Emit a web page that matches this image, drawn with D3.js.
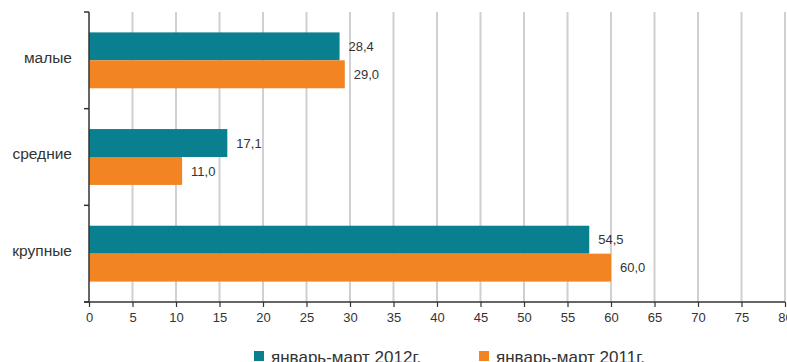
<!DOCTYPE html>
<html>
<head>
<meta charset="utf-8">
<script src="https://cdn.jsdelivr.net/npm/d3@7"></script>
<style>
  body { margin: 0; background: #fff; }
  text { font-family: "Liberation Sans", Arial, sans-serif; fill: #333; }
</style>
</head>
<body>
<div class="container"></div>
<script>
const categories = ["малые", "средние", "крупные"];
const seriesNames = ["январь-март 2012г.", "январь-март 2011г."];
// bar lengths as drawn in the picture
const values2012 = [28.8, 15.9, 57.5];
const values2011 = [29.4, 10.7, 60.0];
// printed labels
const labels2012 = ["28,4", "17,1", "54,5"];
const labels2011 = ["29,0", "11,0", "60,0"];
const xTicks = d3.range(0, 81, 5);

const w = 787;
const h = 362;
const margin = { top: 12, right: 2, bottom: 60, left: 89 };
const colors = ["#0a7f8f", "#f38422"];

const svg = d3.select(".container").append("svg")
  .attr("width", w)
  .attr("height", h);

const x = d3.scaleLinear().domain([0, 80]).range([margin.left, 785]);
const y = d3.scaleBand().domain(categories).range([margin.top, h - margin.bottom]);
const ySub = d3.scaleBand().domain(seriesNames).range([0, y.bandwidth()]).paddingOuter(0.73);

// grid
svg.append("g").selectAll("line")
  .data(xTicks.filter(d => d > 0))
  .enter().append("line")
  .attr("x1", d => x(d)).attr("x2", d => x(d))
  .attr("y1", margin.top).attr("y2", h - margin.bottom)
  .attr("stroke", "#d0d0d0")
  .attr("stroke-width", 2);

const rows = categories.map((c, i) => [
  { cat: c, s: seriesNames[0], v: values2012[i], label: labels2012[i], color: colors[0] },
  { cat: c, s: seriesNames[1], v: values2011[i], label: labels2011[i], color: colors[1] }
]).flat();

svg.append("g").selectAll("rect")
  .data(rows)
  .enter().append("rect")
  .attr("x", x(0))
  .attr("y", d => y(d.cat) + ySub(d.s))
  .attr("width", d => x(d.v) - x(0))
  .attr("height", ySub.bandwidth())
  .attr("fill", d => d.color);

svg.append("g").selectAll("text")
  .data(rows)
  .enter().append("text")
  .attr("x", d => x(d.v) + 9)
  .attr("y", d => y(d.cat) + ySub(d.s) + ySub.bandwidth() / 2)
  .attr("dy", "0.35em")
  .style("font-size", "13px")
  .text(d => d.label);

// x axis
const xAxis = svg.append("g")
  .attr("transform", `translate(0,${h - margin.bottom})`)
  .call(d3.axisBottom(x).tickValues(xTicks).tickSize(5).tickPadding(6).tickSizeOuter(0));
xAxis.select(".domain").remove();
xAxis.selectAll("line").attr("stroke", "#333").attr("stroke-width", 1.2);
xAxis.selectAll("text").style("font-size", "13px").style("fill", "#333");
xAxis.append("line")
  .attr("x1", margin.left - 5).attr("x2", x(80))
  .attr("stroke", "#333").attr("stroke-width", 1.5);

// y axis
const yEdges = categories.map(c => y(c)).concat([h - margin.bottom]);
const yAxis = svg.append("g");
yAxis.append("line")
  .attr("x1", margin.left).attr("x2", margin.left)
  .attr("y1", margin.top).attr("y2", h - margin.bottom)
  .attr("stroke", "#333").attr("stroke-width", 1.5);
yAxis.selectAll(".tick")
  .data(yEdges)
  .enter().append("line")
  .attr("x1", margin.left - 5).attr("x2", margin.left)
  .attr("y1", d => d).attr("y2", d => d)
  .attr("stroke", "#333").attr("stroke-width", 1.5);
yAxis.selectAll(".cat")
  .data(categories)
  .enter().append("text")
  .attr("x", 72)
  .attr("y", d => y(d) + y.bandwidth() / 2 - 3)
  .attr("dy", "0.35em")
  .attr("text-anchor", "end")
  .style("font-size", "15.5px")
  .text(d => d);

// legend
const legendX = [254, 479];
const legend = svg.append("g").selectAll("g")
  .data(seriesNames)
  .enter().append("g")
  .attr("transform", (d, i) => `translate(${legendX[i]},351)`);
legend.append("rect")
  .attr("width", 10).attr("height", 10)
  .attr("fill", (d, i) => colors[i]);
legend.append("text")
  .attr("x", 17)
  .attr("y", 12)
  .style("font-size", "17px")
  .text(d => d);
</script>
</body>
</html>
